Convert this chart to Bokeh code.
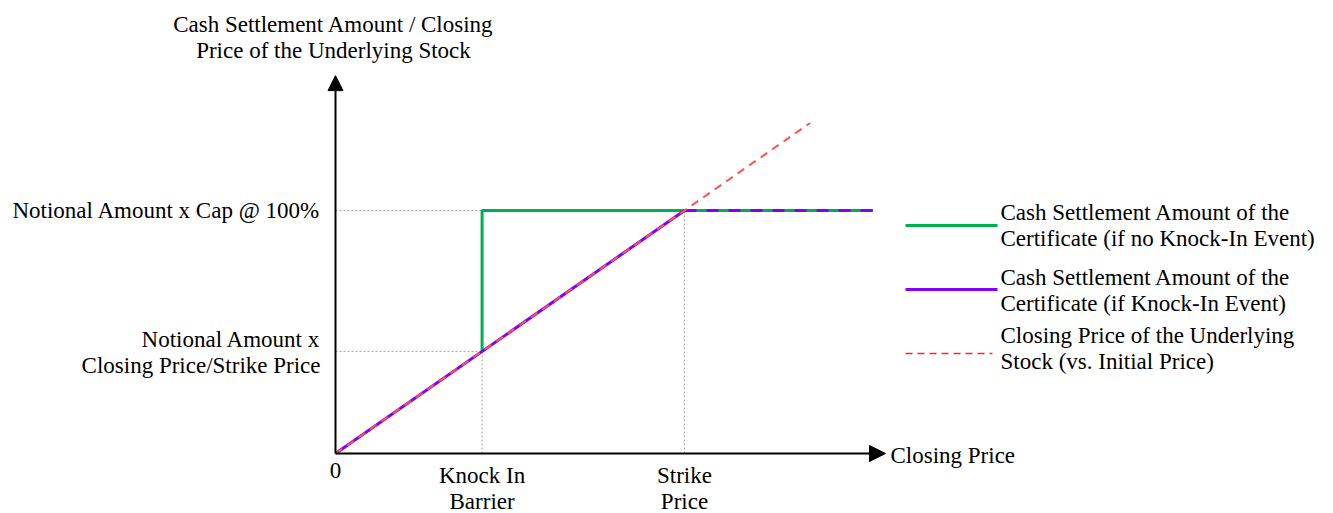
from bokeh.plotting import figure
from bokeh.models import Range1d, Arrow, NormalHead
from bokeh.core.properties import value
from bokeh.embed import file_html
from bokeh.resources import INLINE

# ---- data (relative to strike = 1) ----
x_tick_values = [0.0, 0.42, 1.0]
x_tick_labels = ["0", "Knock In\nBarrier", "Strike\nPrice"]
y_tick_values = [0.42, 1.0]
y_tick_labels = ["Notional Amount x\nClosing Price/Strike Price", "Notional Amount x Cap @ 100%"]

no_ki_x = [0.42, 0.42, 1.54]
no_ki_y = [0.42, 1.0, 1.0]
ki_diag_x = [0.0, 1.0]
ki_diag_y = [0.0, 1.0]
ki_flat_x = [1.0, 1.54]
ki_flat_y = [1.0, 1.0]
stock_x = [0.0, 1.36]
stock_y = [0.0, 1.36]

series_names = [
    "Cash Settlement Amount of the\nCertificate (if no Knock-In Event)",
    "Cash Settlement Amount of the\nCertificate (if Knock-In Event)",
    "Closing Price of the Underlying\nStock (vs. Initial Price)",
]
x_axis_title = "Closing Price"
y_axis_title = "Cash Settlement Amount / Closing\nPrice of the Underlying Stock"
x_axis_end = 1.576
y_axis_end = 1.555

# ---- layout ----
W, H = 1333, 513
SX, SY = 349.0, 243.0
OX, OY = 335.0, 453.0


def dx(X):
    return (X - OX) / SX


def dy(Y):
    return (OY - Y) / SY


x0 = -OX / SX
y1 = OY / SY

p = figure(width=W, height=H, output_backend="svg", toolbar_location=None,
           x_range=Range1d(x0, x0 + W / SX), y_range=Range1d(y1 - H / SY, y1),
           min_border=0, title=None)
p.axis.visible = False
p.grid.visible = False
p.outline_line_color = None
p.background_fill_color = "white"
p.border_fill_color = "white"

GREEN = "#00B050"
PURPLE = "#8000FF"
RED = "#FF4F4F"
GRAY = "#A6A6A6"
FONT = value("Liberation Serif")
FS = "23px"

# guide lines
b, s = x_tick_values[1], x_tick_values[2]
p.line([0, s], [y_tick_values[1], y_tick_values[1]], line_color=GRAY, line_width=1, line_dash="2 2")
p.line([0, b], [y_tick_values[0], y_tick_values[0]], line_color=GRAY, line_width=1, line_dash="2 2")
p.line([b, b], [0, y_tick_values[0]], line_color=GRAY, line_width=1, line_dash="2 2")
p.line([s, s], [0, y_tick_values[1]], line_color=GRAY, line_width=1, line_dash="2 2")

# series
p.line(no_ki_x, no_ki_y, line_color=GREEN, line_width=3)
p.line(ki_diag_x, ki_diag_y, line_color=PURPLE, line_width=3)
p.line(ki_flat_x, ki_flat_y, line_color=PURPLE, line_width=3, line_dash="12 10")
p.line(stock_x, stock_y, line_color=RED, line_width=2, line_dash="8 6")

# axes
p.add_layout(Arrow(end=NormalHead(size=16, fill_color="black", line_color="black"),
                   x_start=0, y_start=0, x_end=x_axis_end, y_end=0,
                   line_color="black", line_width=2))
p.add_layout(Arrow(end=NormalHead(size=15, fill_color="black", line_color="black"),
                   x_start=0, y_start=0, x_end=0, y_end=y_axis_end,
                   line_color="black", line_width=2))


def txt(x, y, t, align):
    p.text(x=[x], y=[y], text=[t], text_align=align, text_baseline="top",
           text_font=FONT, text_font_size=FS, text_color="black", text_line_height=1.06)


# axis titles
txt(dx(333), dy(11), y_axis_title, "center")
txt(dx(890), dy(442), x_axis_title, "left")

# y tick labels
txt(dx(320), dy(326), y_tick_labels[0], "right")
txt(dx(320), dy(197), y_tick_labels[1], "right")

# x tick labels
for v, lab in zip(x_tick_values, x_tick_labels):
    txt(v, dy(462), lab, "center")

# legend
leg_y = [225, 289, 353]
leg_text_top = [199, 264, 322]
p.line([dx(905), dx(997)], [dy(leg_y[0])] * 2, line_color=GREEN, line_width=3)
p.line([dx(905), dx(997)], [dy(leg_y[1])] * 2, line_color=PURPLE, line_width=3)
p.line([dx(905), dx(992)], [dy(leg_y[2])] * 2, line_color="#FF2020", line_width=1.5, line_dash="7 5")
for t, yy in zip(series_names, leg_text_top):
    txt(dx(1000), dy(yy), t, "left")

open("out.html", "w").write(file_html(p, INLINE))
